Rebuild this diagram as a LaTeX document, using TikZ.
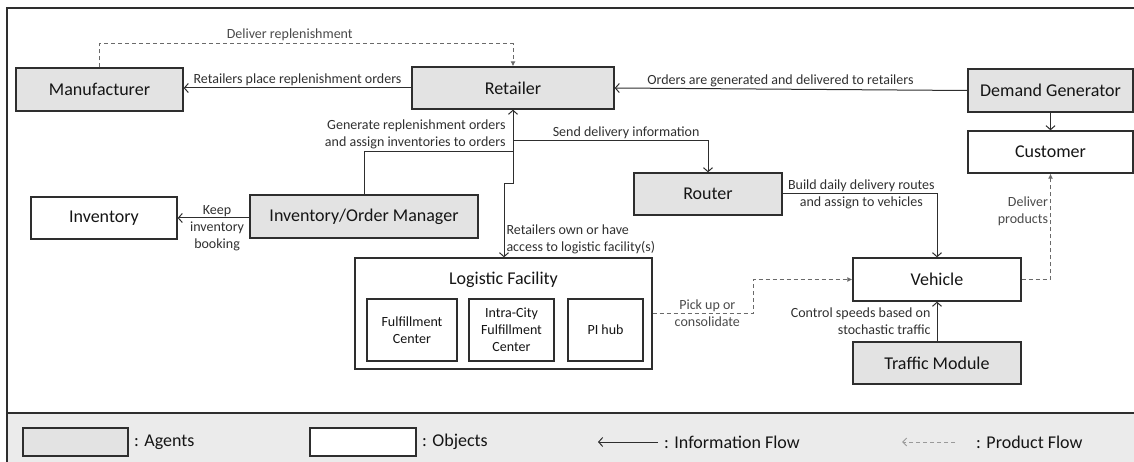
\documentclass[tikz,border=0pt]{standalone}
\usepackage{fontspec}
\setmainfont{Carlito}
\usetikzlibrary{arrows.meta,calc}
\definecolor{agentfill}{HTML}{E3E3E3}
\definecolor{bandfill}{HTML}{EBEBEB}
\definecolor{linecol}{HTML}{2E2E2E}
\definecolor{txtcol}{HTML}{151515}
\definecolor{lblcol}{HTML}{303030}
\definecolor{prodcol}{HTML}{6A6A6A}
\definecolor{prodtxt}{HTML}{4A4A4A}
\definecolor{legprod}{HTML}{9A9A9A}
\begin{document}
\begin{tikzpicture}[x=1pt,y=-1pt,
  box/.style={draw=linecol, line width=1.3pt, inner sep=0pt, text=txtcol,
    font=\fontsize{18}{21}\selectfont, align=center},
  agent/.style={box, fill=agentfill},
  object/.style={box, fill=white},
  subbox/.style={box, fill=white, font=\fontsize{14}{17}\selectfont},
  info/.style={draw=linecol, line width=1pt, -{Straight Barb[length=4pt,width=9pt]}},
  infoline/.style={draw=linecol, line width=1pt},
  prod/.style={draw=prodcol, line width=1pt, dash pattern=on 4pt off 3pt,
    -{Latex[length=5pt,width=5pt]}},
  lbl/.style={font=\fontsize{14}{17}\selectfont, text=lblcol, inner sep=2pt, align=center},
  plbl/.style={lbl, text=prodtxt},
  legtxt/.style={font=\fontsize{18}{21}\selectfont, text=txtcol, anchor=west, inner sep=0pt},
]
\useasboundingbox (0,0) rectangle (1134,462);
\clip (0,0) rectangle (1134,462);

% frame and legend band
\fill[bandfill] (7,413) rectangle (1150,480);
\draw[linecol, line width=1.3pt] (7,8) rectangle (1150,480);
\draw[linecol, line width=1.3pt] (7,413) -- (1150,413);

% nodes
\node[agent, minimum width=167pt, minimum height=43pt] (man) at (99.5,89.5) {Manufacturer};
\node[agent, minimum width=202pt, minimum height=42pt] (ret) at (513,88) {Retailer};
\node[agent, minimum width=165pt, minimum height=43pt] (dg) at (1050.5,90.5) {Demand Generator};
\node[object, minimum width=165pt, minimum height=42pt] (cus) at (1050.5,152) {Customer};
\node[agent, minimum width=148pt, minimum height=42pt] (rou) at (708,194) {Router};
\node[object, minimum width=146pt, minimum height=42pt] (inv) at (104,218) {Inventory};
\node[agent, minimum width=228pt, minimum height=43pt] (iom) at (364,216.5) {Inventory/Order Manager};
\node[object, minimum width=297pt, minimum height=111pt] (lf) at (503.5,313.5) {};
\node[lbl, text=txtcol, font=\fontsize{18}{21}\selectfont] (lft) at (503.5,280) {Logistic Facility};
\node[subbox, minimum width=90pt, minimum height=62pt] (fc) at (412,330) {Fulfillment\\Center};
\node[subbox, minimum width=85pt, minimum height=62pt] (icfc) at (511.5,330) {Intra-City\\Fulfillment\\Center};
\node[subbox, minimum width=75pt, minimum height=62pt] (pi) at (605.5,330) {PI hub};
\node[object, minimum width=168pt, minimum height=43pt] (veh) at (937,279.5) {Vehicle};
\node[agent, minimum width=168pt, minimum height=42pt] (tra) at (937,363) {Traffic Module};

% helper coordinates
\coordinate (dtop) at (513,44);
\coordinate (j1) at (513,152);
\coordinate (j2) at (513,141);
\coordinate (j3) at (513,184);
\coordinate (j4) at (504,184);
\coordinate (k1) at (753,313.5);

% connectors
\draw[info] (ret.west) -- node[lbl, above] {Retailers place replenishment orders} (man.east |- ret.west);
\draw[prod] (man.north) |- node[plbl, above, pos=0.73, yshift=1pt] {Deliver replenishment} (dtop) -- (ret.north);
\draw[info] (dg.west) -- node[lbl, above, pos=0.53] {Orders are generated and delivered to retailers} (ret.east);
\draw[info] (dg.south) -- (cus.north);
\draw[info] (iom.north) |- node[lbl, pos=1, anchor=south east, xshift=-5pt, yshift=1pt, align=right]
  {Generate replenishment orders\\and assign inventories to orders} (j1) -- (ret.south);
\draw[info] (j2) -| node[lbl, above, pos=0.29] {Send delivery information} (rou.north);
\draw[infoline] (ret.south) -- (j3) -- (j4);
\draw[info] (j4) -- node[lbl, right, pos=0.75, align=left] {Retailers own or have\\access to logistic facility(s)} (j4 |- lf.north);
\draw[info] (rou.east) -| node[lbl, pos=0.255] {Build daily delivery routes\\and assign to vehicles} (veh.north);
\draw[info] (iom.west |- inv.east) -- node[lbl, pos=0.45, yshift=-10pt] {Keep\\inventory\\booking} (inv.east);
\draw[info] (tra.north) -- node[lbl, left, midway, xshift=-4pt, align=right] {Control speeds based on\\stochastic traffic} (veh.south);
\draw[prod] (lf.east) -- node[plbl, pos=0.545] {Pick up or\\consolidate} (k1) |- (veh.west);
\draw[prod] (veh.east) -| node[plbl, left, pos=0.824, align=right] {Deliver\\products} (cus.south);

% legend
\node[agent, line width=1.2pt, minimum width=105pt, minimum height=28pt, fill=agentfill] (lega) at (75.5,442) {};
\node[legtxt] (legat) at (134,442) {: Agents};
\node[object, line width=1.2pt, minimum width=106pt, minimum height=28pt] (lego) at (363,442) {};
\node[legtxt] (legot) at (422,442) {: Objects};
\coordinate (li1) at (658,442);
\coordinate (li2) at (598,442);
\draw[info] (li1) -- (li2);
\node[legtxt] (legit) at (664,442) {: Information Flow};
\coordinate (lp1) at (955,442);
\coordinate (lp2) at (902,442);
\draw[draw=legprod, line width=1pt, dash pattern=on 4pt off 3pt, -{Straight Barb[length=4pt,width=8pt]}] (lp1) -- (lp2);
\node[legtxt] (legpt) at (976,442) {: Product Flow};
\end{tikzpicture}
\end{document}
